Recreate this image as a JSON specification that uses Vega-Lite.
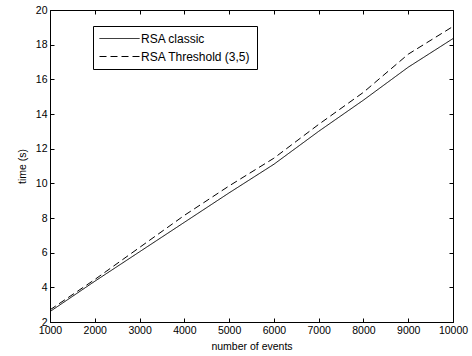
{
  "$schema": "https://vega.github.io/schema/vega-lite/v6.json",
  "width": 403,
  "height": 312,
  "autosize": {"type": "none"},
  "padding": {"left": 50, "top": 10, "right": 19, "bottom": 34},
  "background": "white",
  "config": {
    "view": {"stroke": "black", "strokeWidth": 1},
    "font": "Liberation Sans",
    "axis": {
      "grid": false,
      "domainColor": "black",
      "tickColor": "black",
      "labelColor": "black",
      "titleColor": "black",
      "labelFont": "Liberation Sans",
      "titleFont": "Liberation Sans",
      "labelFontSize": 10.5,
      "titleFontSize": 10.5,
      "titleFontWeight": "normal",
      "tickSize": -4
    }
  },
  "data": {
    "values": [
      {"events": 1000, "time": 2.6, "series": "RSA classic"},
      {"events": 2000, "time": 4.35, "series": "RSA classic"},
      {"events": 3000, "time": 6.05, "series": "RSA classic"},
      {"events": 4000, "time": 7.75, "series": "RSA classic"},
      {"events": 5000, "time": 9.45, "series": "RSA classic"},
      {"events": 6000, "time": 11.1, "series": "RSA classic"},
      {"events": 7000, "time": 13.0, "series": "RSA classic"},
      {"events": 8000, "time": 14.8, "series": "RSA classic"},
      {"events": 9000, "time": 16.7, "series": "RSA classic"},
      {"events": 10000, "time": 18.35, "series": "RSA classic"},
      {"events": 1000, "time": 2.7, "series": "RSA Threshold (3,5)"},
      {"events": 2000, "time": 4.45, "series": "RSA Threshold (3,5)"},
      {"events": 3000, "time": 6.3, "series": "RSA Threshold (3,5)"},
      {"events": 4000, "time": 8.15, "series": "RSA Threshold (3,5)"},
      {"events": 5000, "time": 9.85, "series": "RSA Threshold (3,5)"},
      {"events": 6000, "time": 11.45, "series": "RSA Threshold (3,5)"},
      {"events": 7000, "time": 13.4, "series": "RSA Threshold (3,5)"},
      {"events": 8000, "time": 15.25, "series": "RSA Threshold (3,5)"},
      {"events": 9000, "time": 17.45, "series": "RSA Threshold (3,5)"},
      {"events": 10000, "time": 19.05, "series": "RSA Threshold (3,5)"}
    ]
  },
  "layer": [
    {
      "mark": {"type": "line", "color": "black", "strokeWidth": 1},
      "encoding": {
        "x": {
          "field": "events", "type": "quantitative",
          "scale": {"domain": [1000, 10000], "nice": false, "zero": false},
          "axis": {"title": "number of events", "values": [1000,2000,3000,4000,5000,6000,7000,8000,9000,10000], "format": "d", "labelPadding": 7, "titlePadding": 6, "labelFlush": false}
        },
        "y": {
          "field": "time", "type": "quantitative",
          "scale": {"domain": [2, 20], "nice": false, "zero": false},
          "axis": {"title": "time (s)", "values": [2,4,6,8,10,12,14,16,18,20], "labelPadding": 7, "titlePadding": 8, "labelFlush": false}
        },
        "strokeDash": {
          "field": "series", "type": "nominal",
          "scale": {"domain": ["RSA classic", "RSA Threshold (3,5)"], "range": [[1, 0], [7, 4]]},
          "legend": {
            "title": null,
            "orient": "none",
            "legendX": 43,
            "legendY": 16,
            "strokeColor": "black",
            "fillColor": "white",
            "padding": 6,
            "symbolType": "stroke",
            "symbolSize": 1600,
            "clipHeight": 13,
            "symbolStrokeColor": "black",
            "symbolStrokeWidth": 1,
            "labelFont": "Liberation Sans",
            "labelFontSize": 12,
            "labelColor": "black",
            "labelOffset": 1,
            "rowPadding": 5
          }
        }
      }
    },
    {
      "mark": {"type": "line", "opacity": 0},
      "encoding": {
        "x": {"field": "events", "type": "quantitative", "axis": {"orient": "top", "labels": false, "title": null, "domain": false, "values": [1000,2000,3000,4000,5000,6000,7000,8000,9000,10000]}},
        "y": {"field": "time", "type": "quantitative", "axis": {"orient": "right", "labels": false, "title": null, "domain": false, "values": [2,4,6,8,10,12,14,16,18,20]}},
        "detail": {"field": "series"}
      }
    }
  ],
  "resolve": {"axis": {"x": "independent", "y": "independent"}}
}
